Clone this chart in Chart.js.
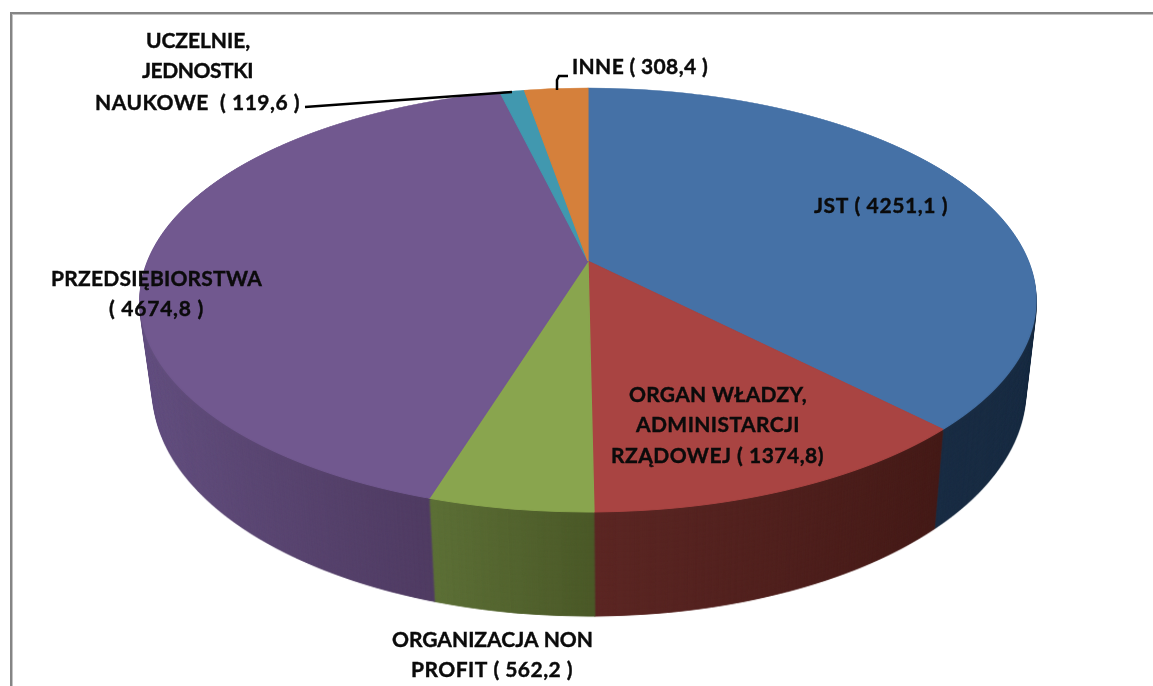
<!DOCTYPE html>
<html>
<head>
<meta charset="utf-8">
<style>
html, body { margin: 0; padding: 0; background: #fff; }
canvas { display: block; }
</style>
<script src="https://cdn.jsdelivr.net/npm/chart.js@4"></script>
</head>
<body>
<canvas id="myChart" width="1153" height="686"></canvas>
<script>
// data
const categories = ['JST', 'ORGAN WŁADZY, ADMINISTARCJI RZĄDOWEJ', 'ORGANIZACJA NON PROFIT', 'PRZEDSIĘBIORSTWA', 'UCZELNIE, JEDNOSTKI NAUKOWE', 'INNE'];
const values = [4251.1, 1374.8, 562.2, 4674.8, 119.6, 308.4];
const capColors = ['#4571a6', '#a94442', '#89a54e', '#71588f', '#4198af', '#d5803b'];
const wallLeft = ['#1a2d44', '#5c2724', '#5d7037', '#665283', '#245c6c', '#844c20'];
const wallRight = ['#1a2d44', '#451b18', '#4b5928', '#4e3a60', '#245c6c', '#844c20'];

// label text, line by line
const labelLines = [
  'UCZELNIE,', 'JEDNOSTKI', 'NAUKOWE  ( 119,6 )',
  'INNE ( 308,4 )',
  'JST ( 4251,1 )',
  'PRZEDSIĘBIORSTWA', '( 4674,8 )',
  'ORGAN WŁADZY,', 'ADMINISTARCJI', 'RZĄDOWEJ ( 1374,8)',
  'ORGANIZACJA NON', 'PROFIT ( 562,2 )'
];
// left edge, middle height and width of each line on the page
const labelBoxes = [
  [146, 41, 104], [142, 71, 111], [95, 103, 205],
  [572, 67, 136],
  [814, 206, 134],
  [51, 279, 211], [109, 309, 95],
  [629, 395, 178], [636, 425, 164], [611, 456, 213],
  [392, 640, 201], [411, 670, 162]
];
const leaders = [
  [[305, 107], [512, 92]],
  [[568, 76], [559, 76], [557, 80], [557, 90]]
];

// perspective of the tilted disc: apex, half axes, foreshortening
const apexX = 588, apexY = 261, axisA = 440.3, axisB = 204.8, persp = 0.184;
const wallSteps = 120;

function drawDisc(c, arcs, R, cx, cy) {
  for (let y = 84; y < 516; y++) {
    const t0 = y - apexY, t1 = y + 1 - apexY;
    const v0 = t0 / (axisB + persp * t0);
    const v1 = t1 / (axisB + persp * t1);
    const w = 1 - persp * (v0 + v1) / 2;
    const sx = axisA / w / R;
    const sy = 1 / ((v1 - v0) * R);
    c.save();
    c.beginPath();
    c.rect(0, y, c.canvas.width, 1);
    c.clip();
    c.setTransform(sx, 0, 0, sy, apexX - sx * cx, y - sy * (cy + v0 * R));
    arcs.forEach(function (a) { a.draw(c); });
    c.restore();
  }
}

function withColors(arcs, colorOf, fn) {
  const kept = arcs.map(function (a) { return a.options; });
  arcs.forEach(function (a, i) {
    const col = colorOf(a, i);
    a.options = Object.assign({}, kept[i], { backgroundColor: col, borderColor: col });
  });
  fn();
  arcs.forEach(function (a, i) { a.options = kept[i]; });
}

const pie3d = {
  id: 'pie3d',
  beforeDraw(chart) {
    const ctx = chart.ctx;
    ctx.save();
    ctx.fillStyle = '#fff';
    ctx.fillRect(0, 0, 1153, 686);
    ctx.fillStyle = '#858585';
    ctx.fillRect(10, 12, 1143, 2);
    ctx.fillRect(10, 12, 2, 674);
    ctx.fillStyle = '#c4c4c4';
    ctx.fillRect(12, 14, 1141, 1);
    ctx.fillRect(12, 14, 1, 672);
    ctx.restore();
  },
  beforeDatasetsDraw(chart) {
    const ctx = chart.ctx;
    const arcs = chart.getDatasetMeta(0).data;
    const R = arcs[0].outerRadius, cx = arcs[0].x, cy = arcs[0].y;

    // side wall: the disc in wall colours, stacked downward
    const off = document.createElement('canvas');
    off.width = 1153;
    off.height = 686;
    const oc = off.getContext('2d');
    withColors(arcs, function (a, i) {
      let lo = 1, hi = -1;
      for (let s = 0; s <= 40; s++) {
        const k = Math.cos(a.startAngle + (a.endAngle - a.startAngle) * s / 40);
        lo = Math.min(lo, k);
        hi = Math.max(hi, k);
      }
      const g = oc.createLinearGradient(cx + R * lo, 0, cx + R * hi, 0);
      g.addColorStop(0, wallLeft[i]);
      g.addColorStop(1, wallRight[i]);
      return g;
    }, function () { drawDisc(oc, arcs, R, cx, cy); });

    ctx.save();
    for (let i = wallSteps; i >= 2; i--) {
      const t = i / wallSteps;
      ctx.setTransform(1 - 0.027 * t, 0, 0, 1 + 0.06 * t, 17 * t, 73.3 * t);
      ctx.drawImage(off, 0, 0);
    }
    ctx.restore();

    // top of the pie
    drawDisc(ctx, arcs, R, cx, cy);
    return false;
  },
  afterDraw(chart) {
    const ctx = chart.ctx;
    ctx.save();
    ctx.strokeStyle = '#000';
    ctx.lineWidth = 2.5;
    leaders.forEach(function (line) {
      ctx.beginPath();
      line.forEach(function (p, i) {
        if (i === 0) ctx.moveTo(p[0], p[1]); else ctx.lineTo(p[0], p[1]);
      });
      ctx.stroke();
    });
    ctx.fillStyle = '#0b0b0b';
    ctx.strokeStyle = '#0b0b0b';
    ctx.lineWidth = 0.4;
    ctx.font = 'bold 21px Lato';
    ctx.textAlign = 'left';
    ctx.textBaseline = 'middle';
    labelLines.forEach(function (text, i) {
      const box = labelBoxes[i];
      // spread the letters so each line takes the width it has in the picture
      ctx.letterSpacing = '0px';
      const room = box[2] - ctx.measureText(text).width;
      ctx.letterSpacing = (room / text.length).toFixed(3) + 'px';
      ctx.fillText(text, box[0], box[1]);
      ctx.strokeText(text, box[0], box[1]);
    });
    ctx.restore();
  }
};

new Chart(document.getElementById('myChart'), {
  type: 'pie',
  data: {
    labels: categories,
    datasets: [{
      data: values,
      backgroundColor: capColors,
      borderColor: capColors,
      borderWidth: 1
    }]
  },
  options: {
    responsive: false,
    animation: false,
    events: [],
    plugins: { legend: { display: false }, tooltip: { enabled: false } }
  },
  plugins: [pie3d]
});
</script>
</body>
</html>
